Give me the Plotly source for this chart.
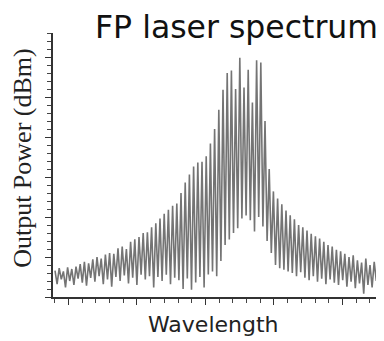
import numpy as np
import plotly.graph_objects as go

# Fabry-Perot longitudinal modes (arbitrary wavelength units, equal mode spacing)
wl_start = -0.984
mode_spacing = 0.3066

# peak power of each mode (arbitrary dB units)
peak_power = [3.3, 3.6, 3.2, 3.7, 3.5, 3.8, 4.1, 4.4, 4.2, 4.7,
              5.0, 4.8, 5.3, 5.5, 5.4, 6.1, 6.3, 6.0, 6.9, 7.2,
              7.5, 8.0, 8.1, 8.7, 9.2, 9.8, 10.4, 10.9, 11.4, 11.7,
              13.0, 14.3, 15.3, 16.3, 16.8, 16.9, 17.6, 19.2, 21.0, 23.4,
              25.9, 28.0, 28.3, 26.0, 29.9, 26.2, 28.4, 24.3, 29.6, 29.3,
              22.0, 16.0, 13.2, 12.3, 11.6, 10.8, 10.2, 9.7, 9.0, 8.7,
              8.3, 7.9, 7.6, 7.3, 6.9, 6.5, 6.3, 5.9, 5.7, 5.4,
              5.0, 5.2, 4.6, 4.3, 4.8, 4.0, 4.4, 3.8]

# power minimum between adjacent modes
trough_power = [1.6, 2.2, 1.2, 2.0, 1.5, 2.3, 1.8, 1.4, 2.4, 1.9,
                2.6, 1.6, 2.2, 1.3, 2.5, 2.0, 2.7, 1.7, 2.4, 1.5,
                2.8, 2.2, 2.6, 1.2, 2.5, 2.0, 2.8, 1.6, 2.4, 2.1,
                1.0, 2.3, 0.9, 1.8, 2.5, 1.2, 2.8, 3.2, 2.6, 4.5,
                6.5, 7.2, 8.0, 8.6, 9.8, 10.2, 9.6, 8.2, 10.0, 8.8,
                7.0, 5.5, 4.0, 3.6, 3.4, 3.2, 3.0, 2.6, 3.1, 2.4,
                2.1, 2.6, 1.9, 2.3, 1.6, 2.2, 1.8, 1.5, 2.1, 1.3,
                1.9, 1.1, 1.7, 0.4, 1.5, 1.2, 2.0, 0.6]

n = len(peak_power)
mode_wl = wl_start + mode_spacing * np.arange(n)

xs, ys = [], []
for i in range(n):
    xs.append(mode_wl[i]); ys.append(peak_power[i])
    xs.append(mode_wl[i] + mode_spacing / 2); ys.append(trough_power[i])

fig = go.Figure()
fig.add_trace(go.Scatter(x=xs, y=ys, mode="lines",
                         line=dict(color="#747474", width=1.6),
                         hoverinfo="skip", showlegend=False))

# page body has a default 8px margin, so the figure is sized to fill the rest
fig.update_layout(
    width=376, height=333,
    margin=dict(l=45, r=4, t=25, b=44),
    paper_bgcolor="white", plot_bgcolor="white",
    showlegend=False,
    xaxis=dict(range=[-1.13, 22.74], tick0=0, dtick=5, showticklabels=False,
               ticks="outside", ticklen=6, tickwidth=1.2, tickcolor="#333",
               minor=dict(dtick=1, ticks="outside", ticklen=4, tickwidth=1, tickcolor="#444"),
               showline=True, linecolor="#333", linewidth=1.5,
               showgrid=False, zeroline=False),
    yaxis=dict(range=[0, 33], tick0=0, dtick=5, showticklabels=False,
               ticks="outside", ticklen=6, tickwidth=1.2, tickcolor="#333",
               minor=dict(dtick=1, ticks="outside", ticklen=4, tickwidth=1, tickcolor="#444"),
               showline=True, linecolor="#333", linewidth=1.5,
               showgrid=False, zeroline=False),
    annotations=[
        dict(text="FP laser spectrum", xref="paper", yref="paper", x=1, y=1,
             xanchor="right", yanchor="bottom", xshift=0, yshift=-14, showarrow=False,
             font=dict(family="DejaVu Sans", size=31.5, color="#111")),
        dict(text="Wavelength", xref="paper", yref="paper", x=0.49, y=0,
             xanchor="center", yanchor="top", yshift=-13, showarrow=False,
             font=dict(family="DejaVu Sans", size=22, color="#222")),
        dict(text="Output Power (dBm)", xref="paper", yref="paper", x=0, y=0.527,
             xanchor="center", yanchor="middle", xshift=-30, yshift=0, textangle=-90, showarrow=False,
             font=dict(family="Liberation Serif", size=26, color="#222")),
    ],
)

fig.write_html("out.html")
